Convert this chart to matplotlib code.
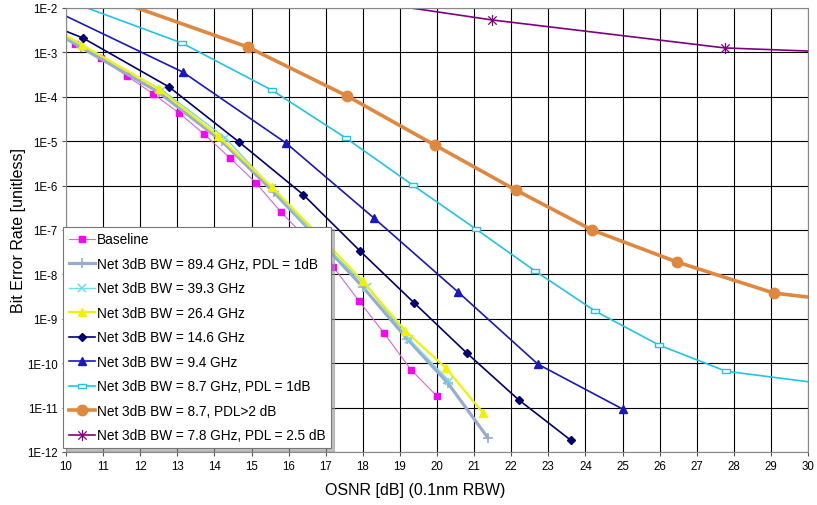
import numpy as np
import matplotlib
matplotlib.use("Agg")
import matplotlib.pyplot as plt
from matplotlib.path import Path
from matplotlib.ticker import FixedLocator, FuncFormatter, NullLocator

plt.rcParams['font.family'] = ['Liberation Sans', 'DejaVu Sans']

# OSNR [dB] and measured BER for each filter setting
baseline_osnr = [10.24, 10.94, 11.64, 12.35, 13.05, 13.72, 14.42, 15.12, 15.80,
                 16.50, 17.20, 17.90, 18.57, 19.30, 20.00]
baseline_ber = [1.55e-3, 7.4e-4, 2.95e-4, 1.17e-4, 4.3e-5, 1.45e-5, 4.2e-6, 1.15e-6,
                2.5e-7, 6.3e-8, 1.5e-8, 2.5e-9, 4.8e-10, 7.1e-11, 1.8e-11]

bw894_osnr = [9.8, 10.4, 12.5, 14.2, 15.6, 16.8, 18.0, 19.2, 20.3, 21.37]
bw894_ber = [2.6e-3, 1.3e-3, 1.26e-4, 1.0e-5, 7.1e-7, 6.3e-8, 5.2e-9, 3.5e-10, 3.5e-11, 2.1e-12]

bw393_osnr = [9.8, 12.6, 14.29, 15.55, 16.8, 18.12, 19.25, 20.32]
bw393_ber = [2.7e-3, 1.4e-4, 1.2e-5, 8.9e-7, 6.3e-8, 5.2e-9, 3.5e-10, 4.0e-11]

bw264_osnr = [9.8, 10.43, 12.5, 14.1, 15.55, 16.8, 18.0, 19.14, 20.24, 21.24]
bw264_ber = [3.0e-3, 1.48e-3, 1.5e-4, 1.32e-5, 9.3e-7, 7.9e-8, 7.1e-9, 5.4e-10, 7.8e-11, 7.6e-12]

bw146_osnr = [9.8, 10.46, 12.78, 14.67, 16.4, 17.92, 19.38, 20.8, 22.2, 23.6]
bw146_ber = [3.5e-3, 2.1e-3, 1.66e-4, 9.5e-6, 6.2e-7, 3.4e-8, 2.3e-9, 1.7e-10, 1.5e-11, 1.86e-12]

bw94_osnr = [9.8, 13.15, 15.93, 18.3, 20.57, 22.72, 25.0]
bw94_ber = [7.9e-3, 3.6e-4, 9.1e-6, 1.86e-7, 4.0e-9, 9.5e-11, 9.3e-12]

bw87_osnr = [10.0, 13.13, 15.55, 17.55, 19.35, 21.05, 22.64, 24.26, 25.98, 27.79, 30.6]
bw87_ber = [1.5e-2, 1.62e-3, 1.41e-4, 1.17e-5, 1.02e-6, 1.05e-7, 1.2e-8, 1.5e-9,
            2.57e-10, 6.6e-11, 3.3e-11]

bw87pdl_osnr = [10.9, 14.9, 17.57, 19.95, 22.13, 24.18, 26.47, 29.08, 30.6]
bw87pdl_ber = [2.0e-2, 1.32e-3, 1.05e-4, 8.1e-6, 7.9e-7, 1.0e-7, 1.9e-8, 3.8e-9, 2.7e-9]

bw78_osnr = [15.2, 21.47, 27.76, 31.0]
bw78_ber = [3.2e-2, 5.4e-3, 1.26e-3, 1.0e-3]

labels = [
    'Baseline',
    'Net 3dB BW = 89.4 GHz, PDL = 1dB',
    'Net 3dB BW = 39.3 GHz',
    'Net 3dB BW = 26.4 GHz',
    'Net 3dB BW = 14.6 GHz',
    'Net 3dB BW = 9.4 GHz',
    'Net 3dB BW = 8.7 GHz, PDL = 1dB',
    'Net 3dB BW = 8.7, PDL>2 dB',
    'Net 3dB BW = 7.8 GHz, PDL = 2.5 dB',
]
x_ticks = list(range(10, 31))
y_exponents = list(range(-2, -13, -1))

# small hollow bar and Excel-style asterisk markers
dash_marker = Path([(-1, -0.4), (1, -0.4), (1, 0.4), (-1, 0.4), (-1, -0.4)],
                   [Path.MOVETO, Path.LINETO, Path.LINETO, Path.LINETO, Path.CLOSEPOLY])
star_marker = Path([(0, -1), (0, 1), (-0.75, -0.75), (0.75, 0.75), (-0.75, 0.75), (0.75, -0.75)],
                   [Path.MOVETO, Path.LINETO, Path.MOVETO, Path.LINETO, Path.MOVETO, Path.LINETO])

fig = plt.figure(figsize=(8.17, 5.06), dpi=100)
ax = fig.add_axes([66 / 817, 1 - 453 / 506, 742 / 817, 444 / 506])

ax.plot(baseline_osnr, baseline_ber, color='#e060e0', lw=0.8, marker='s', ms=5,
        mfc='#ff00ff', mec='#ff00ff', label=labels[0])
ax.plot(bw894_osnr, bw894_ber, color='#98acd0', lw=2.3, marker='+', ms=7, mew=1.2,
        label=labels[1])
ax.plot(bw393_osnr, bw393_ber, color='#70dce8', lw=1.0, marker='x', ms=5.5, mew=1.1,
        label=labels[2])
ax.plot(bw264_osnr, bw264_ber, color='#f2f200', lw=1.6, marker='^', ms=6,
        mfc='#f2f200', mec='#f2f200', label=labels[3])
ax.plot(bw146_osnr, bw146_ber, color='#000070', lw=1.2, marker='D', ms=4,
        label=labels[4])
ax.plot(bw94_osnr, bw94_ber, color='#1818c0', lw=1.2, marker='^', ms=6,
        label=labels[5])
ax.plot(bw87_osnr, bw87_ber, color='#20c4e8', lw=1.2, marker=dash_marker, ms=6,
        mfc='white', mec='#20c4e8', mew=1.0, label=labels[6])
ax.plot(bw87pdl_osnr, bw87pdl_ber, color='#de8840', lw=2.6, marker='o', ms=7.5,
        label=labels[7])
ax.plot(bw78_osnr, bw78_ber, color='#800080', lw=1.2, marker=star_marker, ms=8,
        mew=0.9, label=labels[8])

ax.set_yscale('log')
ax.set_xlim(10, 30)
ax.set_ylim(1e-12, 1e-2)

ax.xaxis.set_major_locator(FixedLocator(x_ticks))
ax.yaxis.set_major_locator(FixedLocator([10.0 ** e for e in y_exponents]))
ax.yaxis.set_minor_locator(NullLocator())
ax.yaxis.set_major_formatter(FuncFormatter(lambda v, p: '1E%d' % round(np.log10(v))))

ax.grid(True, color='black', lw=0.8)
ax.set_axisbelow(True)
ax.tick_params(axis='both', direction='out', length=3, width=0.8, color='#555555',
               labelsize=8.3, pad=3)
for side in ['top', 'right', 'left', 'bottom']:
    ax.spines[side].set_color('#888888')
    ax.spines[side].set_linewidth(0.8)

ax.set_xlabel('OSNR [dB] (0.1nm RBW)', fontsize=11.5)
ax.set_ylabel('Bit Error Rate [unitless]', fontsize=11.5)
ax.xaxis.set_label_coords(0.47, -0.068)
ax.yaxis.set_label_coords(-0.054, 0.5)

leg = ax.legend(loc='lower left', bbox_to_anchor=(63 / 817, 1 - 449 / 506),
                bbox_transform=fig.transFigure, borderaxespad=0, fontsize=9.8,
                handlelength=1.9, handletextpad=0.15, labelspacing=0.77,
                borderpad=0.42, fancybox=False, framealpha=1,
                shadow={'color': '#999999', 'alpha': 0.6})
leg.get_frame().set_edgecolor('#777777')
leg.get_frame().set_linewidth(0.8)

fig.savefig('out.png', dpi=100)
